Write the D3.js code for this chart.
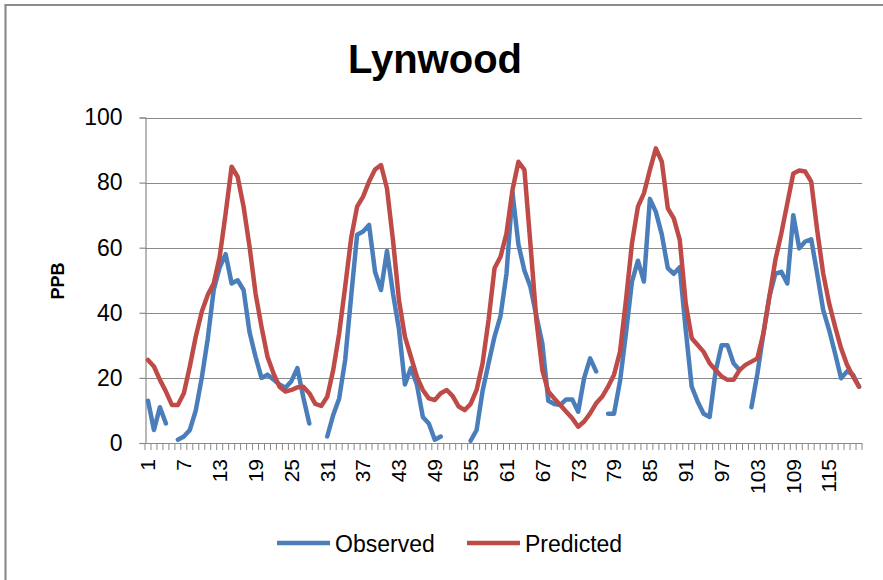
<!DOCTYPE html>
<html>
<head>
<meta charset="utf-8">
<script src="https://cdn.jsdelivr.net/npm/d3@7"></script>
<style>
  html, body { margin: 0; padding: 0; background: #fff; }
  svg { display: block; }
  text { font-family: "Liberation Sans", Arial, sans-serif; fill: #000; }
</style>
</head>
<body>
<svg id="chart" width="883" height="580"></svg>
<script>
// Monthly ozone at Lynwood, observed vs model-predicted (ppb); null = no observation
const categories = d3.range(1, 121);
const observed = [
  13, 4, 11, 6, null, 1, 2, 4, 10, 20,
  32, 47, 54, 58, 49, 50, 47, 34, 26.5, 20,
  21, 19.5, 18, 17, 19, 23, 14, 6, null, null,
  2, 8.6, 13.7, 25.5, 45, 64, 65, 67, 52.6, 47,
  59, 46, 35, 18, 23, 18, 8, 6, 1, 2,
  null, null, null, null, 0.7, 4, 16, 24.5, 32.7, 39,
  52, 77, 61, 53, 48, 39, 30.6, 13, 12, 11.7,
  13.4, 13.4, 9.6, 20, 26, 22, null, 9, 9, 19,
  33.7, 49.6, 56, 49.6, 75, 71, 64, 53.7, 52, 54,
  34.7, 17.3, 12.7, 9, 8, 22, 30, 30, 24.5, 22.4,
  null, 11, 21.4, 33.7, 45, 52, 52.6, 49, 70, 59.8,
  61.9, 62.6, 52, 40.9, 34.7, 27.5, 19.9, 22, 21, 17.3
];
const predicted = [
  25.5, 23.5, 19.4, 15.8, 11.7, 11.7, 15.3, 23.5, 32.7, 40.3,
  45.5, 49, 57.2, 70.6, 84.9, 81.8, 72.6, 60.3, 46, 35.7,
  26.5, 21.4, 17.3, 15.8, 16.3, 17.1, 17.3, 15.3, 12, 11.4,
  14.2, 22.4, 33.7, 48, 62.9, 72.6, 75.7, 80.3, 84, 85.4,
  78.2, 62.4, 43.9, 32.7, 26.5, 20.4, 16.3, 13.7, 13.2, 15.3,
  16.3, 14.4, 11.2, 10.1, 12, 16.3, 24.5, 37.8, 53.7, 57.2,
  64.4, 77.7, 86.4, 83.9, 61.3, 37.8, 22.4, 15.8, 13.7, 11.7,
  9.6, 7.6, 5, 6.6, 9.1, 12.2, 14.2, 17.3, 21, 28,
  43.9, 61.3, 72.6, 76.7, 83.9, 90.5, 86.4, 72.1, 69, 62.4,
  42.9, 32.2, 30.1, 28, 24.5, 22.4, 20.4, 19.4, 19.4, 22.4,
  24, 25, 26, 33.7, 45, 56.2, 64.4, 73.6, 82.8, 83.7,
  83.4, 80.3, 65.4, 52.1, 42.9, 35.7, 29.1, 24, 20.4, 17.3
];
const yTicks = [0, 20, 40, 60, 80, 100];
const xLabels = categories.filter(c => (c - 1) % 6 === 0);
const seriesNames = ["Observed", "Predicted"];
const seriesColors = ["#4A7EBB", "#BE4B48"];

const svg = d3.select("#chart");
const plot = { left: 145, right: 862, top: 117.5, bottom: 443 };

const x = d3.scaleBand().domain(categories).range([plot.left, plot.right]).padding(0);
const y = d3.scaleLinear().domain([0, 100]).range([plot.bottom, plot.top]);

// outer chart frame
svg.append("path")
  .attr("d", `M5.5,${590} L5.5,5 L${890},5`)
  .attr("fill", "none").attr("stroke", "#8c8c8c").attr("stroke-width", 2.2);

// title
svg.append("text")
  .attr("x", 435).attr("y", 73)
  .attr("text-anchor", "middle")
  .style("font-size", "40px").style("font-weight", "bold")
  .text("Lynwood");

// horizontal gridlines
svg.append("g").selectAll("line")
  .data(yTicks.filter(t => t > 0))
  .join("line")
  .attr("x1", plot.left).attr("x2", plot.right)
  .attr("y1", d => Math.round(y(d)) + 0.5).attr("y2", d => Math.round(y(d)) + 0.5)
  .attr("stroke", "#8a8a8a").attr("stroke-width", 1.2);

// y axis
const yAxis = d3.axisLeft(y).tickValues(yTicks).tickSize(6).tickPadding(17);
const gy = svg.append("g").attr("transform", `translate(${plot.left + 0.5},0)`).call(yAxis);
gy.select(".domain").attr("stroke", "#8a8a8a").attr("stroke-width", 1.2);
gy.selectAll(".tick line").attr("stroke", "#8a8a8a").attr("stroke-width", 1.2);
gy.selectAll(".tick text")
  .style("font-size", "23px").style("font-family", "'Liberation Sans', Arial, sans-serif")
  .attr("fill", "#000");

// x axis: baseline, boundary tick marks, rotated labels
const gx = svg.append("g");
gx.append("line")
  .attr("x1", plot.left).attr("x2", plot.right)
  .attr("y1", plot.bottom + 0.5).attr("y2", plot.bottom + 0.5)
  .attr("stroke", "#8a8a8a").attr("stroke-width", 1.2);
const boundaries = categories.map(c => x(c)).concat([x(categories[categories.length - 1]) + x.bandwidth()]);
gx.selectAll("line.tick")
  .data(boundaries)
  .join("line").attr("class", "tick")
  .attr("x1", d => d).attr("x2", d => d)
  .attr("y1", plot.bottom).attr("y2", plot.bottom + 7)
  .attr("stroke", "#8a8a8a").attr("stroke-width", 1);
gx.selectAll("text")
  .data(xLabels)
  .join("text")
  .attr("transform", d => `translate(${x(d) + x.bandwidth() / 2},459) rotate(-90)`)
  .attr("text-anchor", "end")
  .attr("dy", "0.35em")
  .style("font-size", "21px")
  .text(d => d);

// y axis title
svg.append("text")
  .attr("transform", "translate(58,281) rotate(-90)")
  .attr("text-anchor", "middle")
  .attr("dy", "0.35em")
  .style("font-size", "18px").style("font-weight", "bold")
  .text("PPB");

// series lines
const line = d3.line()
  .defined(d => d.v !== null)
  .x(d => x(d.c) + x.bandwidth() / 2)
  .y(d => y(d.v));

[observed, predicted].forEach((vals, i) => {
  const pts = categories.map((c, k) => ({ c, v: vals[k] }));
  svg.append("path")
    .datum(pts)
    .attr("fill", "none")
    .attr("stroke", seriesColors[i])
    .attr("stroke-width", 4.5)
    .attr("stroke-linejoin", "round")
    .attr("stroke-linecap", "round")
    .attr("d", line);
});

// legend
const legend = svg.append("g");
const legendX = [277, 467];
seriesNames.forEach((name, i) => {
  legend.append("line")
    .attr("x1", legendX[i]).attr("x2", legendX[i] + 53)
    .attr("y1", 543).attr("y2", 543)
    .attr("stroke", seriesColors[i]).attr("stroke-width", 4.5);
  legend.append("text")
    .attr("x", legendX[i] + 58).attr("y", 551.5)
    .style("font-size", "23px")
    .attr("fill", "#222")
    .text(name);
});
</script>
</body>
</html>
